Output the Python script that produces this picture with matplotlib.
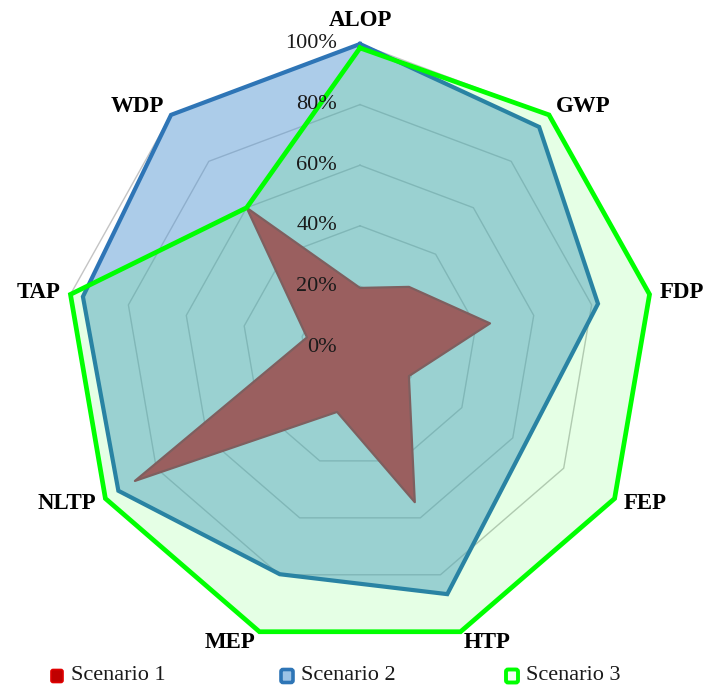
import numpy as np
import matplotlib.pyplot as plt
from matplotlib.patches import FancyBboxPatch

# impact categories, clockwise from the top
categories = ['ALOP', 'GWP', 'FDP', 'FEP', 'HTP', 'MEP', 'NLTP', 'TAP', 'WDP']

# normalised scores (1.0 = 100%)
scenario_1 = [0.195, 0.259, 0.449, 0.192, 0.545, 0.228, 0.884, 0.183, 0.60]
scenario_2 = [1.00, 0.948, 0.822, 0.647, 0.868, 0.798, 0.949, 0.957, 1.00]
scenario_3 = [0.987, 1.00, 1.00, 1.00, 1.00, 1.00, 1.00, 1.00, 0.60]

series_names = ['Scenario 1', 'Scenario 2', 'Scenario 3']
grid_levels = [0.0, 0.2, 0.4, 0.6, 0.8, 1.0]
tick_labels = ['0%', '20%', '40%', '60%', '80%', '100%']

plt.rcParams['font.family'] = ['Liberation Serif', 'DejaVu Serif']

W, H = 706, 692
cx, cy = 360, 347      # centre in pixels
rx, ry = 294, 303      # 100% radius in pixels (picture is a bit narrower than tall)

fig = plt.figure(figsize=(W / 100, H / 100), dpi=100)
ax = fig.add_axes([0, 0, 1, 1])
ax.set_xlim(-cx / rx, (W - cx) / rx)
ax.set_ylim(-(H - cy) / ry, cy / ry)
ax.axis('off')

n = len(categories)
theta = np.arange(n) * 2 * np.pi / n
sx, sy = np.sin(theta), np.cos(theta)


def closed(vals):
    v = np.asarray(vals, dtype=float)
    x = v * sx
    y = v * sy
    return np.append(x, x[0]), np.append(y, y[0])


# polygon gridlines
for lv in grid_levels[1:]:
    gx, gy = closed([lv] * n)
    ax.plot(gx, gy, color='#c4c4c4', lw=1.0, zorder=1)

# scenario 1
x1, y1 = closed(scenario_1)
ax.fill(x1, y1, facecolor='#ff0000', edgecolor='#c00000', lw=1.6,
        joinstyle='round', zorder=2)

# scenario 2
x2, y2 = closed(scenario_2)
ax.fill(x2, y2, facecolor='#5b9bd5', alpha=0.5, lw=0, zorder=3)
ax.plot(x2, y2, color='#2e75b6', lw=3.0, solid_joinstyle='miter', zorder=3.1)

# scenario 3
x3, y3 = closed(scenario_3)
ax.fill(x3, y3, facecolor='#00ff00', alpha=0.1, lw=0, zorder=4)
ax.plot(x3, y3, color='#00ff00', lw=3.4, solid_joinstyle='miter', zorder=4.1)

# radial tick labels
for lv, lab in zip(grid_levels, tick_labels):
    ax.text(-23 / rx, lv, lab, ha='right', va='center', fontsize=16,
            color='#1a1a1a', zorder=6)

# category labels
for i, cat in enumerate(categories):
    if abs(sx[i]) < 0.1:
        ax.annotate(cat, (0, 1.0), xytext=(0, 13), textcoords='offset points',
                    ha='center', va='baseline', fontsize=16.5,
                    fontweight='bold', zorder=6)
        continue
    ha = 'left' if sx[i] > 0 else 'right'
    ax.annotate(cat, (sx[i], sy[i]), xytext=(7.6 * sx[i], 7.9 * sy[i]),
                textcoords='offset points', ha=ha, va='center',
                fontsize=16.5, fontweight='bold', zorder=6)

# legend
legend_x = [57, 287, 512]
legend_y = 676
face = ['#c00000', '#9dc3e6', '#f2fff2']
edge = ['#e00000', '#2e75b6', '#00ff00']
ew = [1.2, 2.6, 2.8]
for lx, name, fc, ec, lw in zip(legend_x, series_names, face, edge, ew):
    bw, bh = 12, 13
    box = FancyBboxPatch(((lx - bw / 2) / W, (H - legend_y - bh / 2) / H),
                         bw / W, bh / H,
                         boxstyle='round,pad=0,rounding_size=0.003',
                         transform=fig.transFigure, facecolor=fc,
                         edgecolor=ec, lw=lw)
    fig.patches.append(box)
    fig.text((lx + 14) / W, (H - legend_y) / H, name, ha='left', va='center',
             fontsize=16, color='#1a1a1a')

fig.savefig('out.png', dpi=100)
